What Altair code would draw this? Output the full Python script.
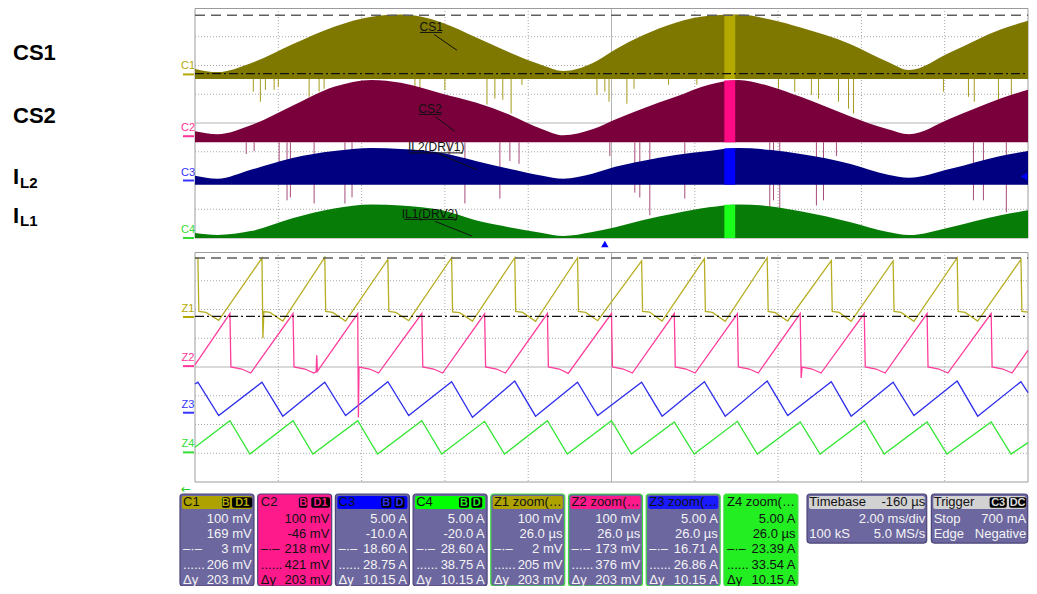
import altair as alt
import numpy as np
import pandas as pd

# ---------------- acquisition (upper grid): 2 ms/div, time in ms ----------------
t_ms = [-9.84, -9.3, -8.5, -7.5, -6.5, -5.6, -4.9, -3.9, -3.1, -2.3, -1.5, -1.0, -0.3,
        0.25, 0.9, 1.7, 2.5, 3.2, 4.0, 4.7, 5.9, 6.8, 7.3, 8.3, 9.5, 10.16]
cs1_top_mv = [19, 8, 39, 105, 166, 201, 208, 180, 129, 77, 32, 12, 39,
              87, 135, 180, 204, 208, 190, 163, 105, 43, 15, 77, 156, 187]
cs2_top_mv = [17, 7, 38, 106, 172, 196, 186, 148, 117, 76, 24, 3, 24,
              58, 96, 137, 179, 196, 172, 137, 69, 24, 7, 62, 131, 162]
il2_top_a = [0.82, 0.31, 1.86, 3.92, 5.12, 5.64, 5.46, 4.78, 3.40, 2.03, 0.82, 0.31, 1.17,
             2.37, 3.40, 4.43, 5.12, 5.64, 5.29, 4.60, 2.89, 1.00, 0.48, 2.03, 4.26, 5.12]
il1_top_a = [0.86, 0.52, 1.20, 3.44, 5.15, 5.84, 5.67, 4.81, 3.09, 1.89, 0.86, 0.34, 1.03,
             1.89, 3.09, 4.30, 5.33, 5.84, 5.50, 4.64, 2.75, 1.03, 0.52, 1.89, 3.95, 4.81]
cs1_floor_mv = -16
cs2_floor_mv = -21
il2_floor_a = -0.72
il1_floor_a = 0.0

cs1_spike_t = [-8.44, -8.27, -8.15, -7.94, -7.84, -7.10, -6.86, -6.74, -4.56, -4.44, -3.84,
               -2.83, -2.64, -2.45, -2.25, -1.99, -0.19, 0.0, 0.10, 0.53, 0.70, 1.53, 2.21,
               4.17, 4.56, 4.96, 5.13, 5.61, 5.85, 5.97, 8.13, 8.73, 8.87, 9.45, 9.76]
cs1_spike_mv = [-60, -95, -54, -54, -43, -78, -60, -50, -60, -50, -54,
                -105, -84, -88, -136, -36, -71, -60, -95, -102, -50, -36, -36,
                -50, -60, -71, -84, -95, -119, -136, -60, -78, -95, -88, -71]
cs2_spike_t = [-8.61, -8.42, -7.82, -7.63, -7.55, -6.98, -6.24, -6.07, -3.74, -3.36, -2.52,
               -2.28, -2.06, 0.12, 0.72, 0.84, 1.08, 1.92, 3.96, 4.05, 4.20, 5.08, 5.25,
               5.56, 8.85, 9.09, 9.64]
cs2_spike_mv = [-62, -52, -96, -223, -213, -234, -234, -213, -76, -234, -217,
                -86, -96, -69, -196, -213, -275, -217, -258, -223, -251, -241, -223,
                -69, -223, -223, -265]

# cursors (C1 / Z1)
c1_cursor_mv = [3, 206]
z1_cursor_mv = [2, 205]
zoom_window_ms = [2.87, 3.13]
trigger_level_a = 0.7

# ---------------- zoom (lower grid): 26 us/div, time in us ----------------
z1_us = [-130.0, -129.1, -128.8, -126.6, -122.6, -109.1, -108.8, -108.5, -106.6, -102.6,
         -89.5, -89.2, -87.0, -83.0, -69.8, -69.5, -67.3, -63.3, -49.9, -49.6, -47.4, -43.4,
         -30.2, -29.9, -27.7, -23.7, -10.6, -10.3, -8.1, -4.3, 9.4, 9.7, 11.9, 15.8,
         29.0, 29.3, 31.5, 35.5, 48.6, 48.9, 51.1, 55.0, 68.6, 68.9, 71.1, 74.8,
         87.9, 88.2, 90.4, 94.4, 107.9, 108.2, 110.4, 114.3, 127.8, 128.1, 130.0]
z1_mv = [203, 205, 19, 16, -12, 205, -74, 19, 16, -14,
         207, 19, 16, -14, 200, 19, 16, -13, 206, 18, 15, -14,
         206, 19, 16, -15, 206, 19, 16, -13, 195, 19, 17, -14,
         203, 19, 16, -15, 206, 19, 15, -14, 196, 19, 16, -15,
         195, 19, 16, -15, 206, 19, 16, -14, 200, 19, 17]
z2_us = [-130.0, -119.1, -118.8, -115.4, -112.6, -99.4, -99.1, -95.7, -92.9, -92.2, -92.0, -91.8,
         -79.2, -79.0, -78.8, -75.5, -72.7, -59.2, -58.9, -55.5, -52.7,
         -39.6, -39.3, -35.9, -33.1, -20.0, -19.7, -16.3, -13.5, 0.0, 0.3, 3.7, 6.5,
         19.6, 19.9, 23.3, 26.1, 39.3, 39.6, 43.0, 45.8, 58.9, 59.2, 59.5, 62.6, 65.4,
         78.9, 79.2, 82.6, 85.4, 98.5, 98.8, 102.2, 105.0, 118.5, 118.8, 122.2, 125.0, 130.0]
z2_mv = [4, 183, -3, -10, -24, 183, -3, -10, -24, -20, 38, -18,
         183, -179, -3, -10, -24, 183, -3, -10, -24,
         182, -3, -10, -24, 183, -3, -10, -25, 183, -3, -10, -24,
         183, -3, -10, -24, 182, -3, -10, -24, 183, -41, -3, -10, -24,
         183, -3, -10, -24, 183, -3, -10, -24, 183, -3, -10, -24, 55]
z3_us = [-130.0, -129.1, -122.6, -109.1, -102.6, -89.5, -83.0, -69.8, -63.3, -49.9, -43.4,
         -30.2, -23.7, -10.6, -4.3, 9.4, 15.8, 29.0, 35.5, 48.6, 55.0, 68.6, 74.8,
         87.9, 94.4, 107.9, 114.3, 127.8, 130.0]
z3_a = [5.0, 5.3, -0.5, 5.3, -0.6, 5.3, -0.5, 5.4, -0.5, 5.4, -0.8,
        5.5, -0.6, 5.3, -0.5, 5.3, -0.6, 5.4, -0.6, 5.5, -0.5, 5.4, -0.6,
        5.3, -0.5, 5.5, -0.6, 5.4, 3.5]
z4_us = [-130.0, -119.1, -112.9, -99.4, -93.2, -79.2, -73.0, -59.2, -53.0, -39.6, -33.4,
         -20.0, -13.8, 0.0, 6.2, 19.6, 25.8, 39.3, 45.5, 58.9, 65.1, 78.9, 85.1,
         98.5, 104.7, 118.5, 124.7, 130.0]
z4_a = [0.9, 5.5, -0.3, 5.5, -0.3, 5.5, -0.3, 5.5, -0.3, 5.4, -0.3,
        5.5, -0.3, 5.5, -0.3, 5.3, -0.3, 5.4, -0.3, 5.3, -0.3, 5.5, -0.3,
        5.3, -0.3, 5.3, -0.3, 1.7]

# ---------------- annotations in the upper grid (ms, divisions) ----------------
ann_text = ["CS1", "CS2", "IL2(DRV1)", "IL1(DRV2)"]
ann_t = [-4.17, -4.20, -4.05, -4.20]
ann_div = [7.35, 4.50, 3.16, 0.82]
ann_ul_t0 = [-4.44, -4.46, -4.70, -4.82]
ann_ul_t1 = [-3.91, -3.91, -3.41, -3.55]
ann_ul_div = [7.15, 4.30, 2.96, 0.65]
ann_ld_t0 = [-4.10, -4.08, -3.98, -4.08]
ann_ld_d0 = [7.08, 4.23, 2.92, 0.58]
ann_ld_t1 = [-3.55, -3.60, -3.07, -3.19]
ann_ld_d1 = [6.53, 3.71, 2.37, 0.07]

# ---------------- readout boxes ----------------
box_names = ["C1", "C2", "C3", "C4", "Z1 zoom(…", "Z2 zoom(…", "Z3 zoom(…", "Z4 zoom(…"]
row_scale = ["100 mV", "100 mV", "5.00 A", "5.00 A", "100 mV", "100 mV", "5.00 A", "5.00 A"]
row_offset = ["169 mV", "-46 mV", "-10.0 A", "-20.0 A", "26.0 µs", "26.0 µs", "26.0 µs", "26.0 µs"]
row_cur1 = ["3 mV", "218 mV", "18.60 A", "28.60 A", "2 mV", "173 mV", "16.71 A", "23.39 A"]
row_cur2 = ["206 mV", "421 mV", "28.75 A", "38.75 A", "205 mV", "376 mV", "26.86 A", "33.54 A"]
row_dy = ["203 mV", "203 mV", "10.15 A", "10.15 A", "203 mV", "203 mV", "10.15 A", "10.15 A"]
timebase_text = ["Timebase", "-160 µs", "2.00 ms/div", "100 kS", "5.0 MS/s"]
trigger_text = ["Trigger", "Stop", "700 mA", "Edge", "Negative"]

# ======================= layout / styles =======================
FONT = "Liberation Sans"
PX0, PX1 = 187, 1020
TOP_R = [230, 0]
BOT_R = [474, 244]
XT = alt.Scale(domain=[-9.84, 10.16], range=[PX0, PX1], zero=False, nice=False)
XZ = alt.Scale(domain=[-130, 130], range=[PX0, PX1], zero=False, nice=False)
DIVX = alt.Scale(domain=[0, 10], range=[PX0, PX1], zero=False, nice=False)


def divy(rng):
    return alt.Scale(domain=[0, 8], range=rng, zero=False, nice=False)


def ysc(ground_div, per_div, rng):
    return alt.Scale(domain=[-ground_div * per_div, (8 - ground_div) * per_div],
                     range=rng, zero=False, nice=False)


Y_C1 = ysc(5.69, 100, TOP_R)
Y_C2 = ysc(3.54, 100, TOP_R)
Y_C3 = ysc(2.0, 5, TOP_R)
Y_C4 = ysc(0.0, 5, TOP_R)
Y_Z1 = ysc(5.74, 100, BOT_R)
Y_Z2 = ysc(4.03, 100, BOT_R)
Y_Z3 = ysc(2.41, 5, BOT_R)
Y_Z4 = ysc(1.03, 5, BOT_R)

one = pd.DataFrame({"a": [0]})
layers = []


def grid(rng):
    y0, y1 = rng[1], rng[0]
    vx = pd.DataFrame({"d": [1, 2, 3, 4, 6, 7, 8, 9]})
    hy = pd.DataFrame({"d": [1, 2, 3, 5, 6, 7]})
    out = [
        alt.Chart(vx).mark_rule(color="#a9a9a9", strokeDash=[1, 2], strokeWidth=1).encode(
            x=alt.X("d:Q", scale=DIVX, axis=None), y=alt.value(y0), y2=alt.value(y1)),
        alt.Chart(hy).mark_rule(color="#a9a9a9", strokeDash=[1, 2], strokeWidth=1).encode(
            y=alt.Y("d:Q", scale=divy(rng), axis=None), x=alt.value(PX0), x2=alt.value(PX1)),
        alt.Chart(pd.DataFrame({"d": [5]})).mark_rule(color="#b4b4b4", strokeWidth=1).encode(
            x=alt.X("d:Q", scale=DIVX, axis=None), y=alt.value(y0), y2=alt.value(y1)),
        alt.Chart(pd.DataFrame({"d": [4]})).mark_rule(color="#b4b4b4", strokeWidth=1).encode(
            y=alt.Y("d:Q", scale=divy(rng), axis=None), x=alt.value(PX0), x2=alt.value(PX1)),
        alt.Chart(one).mark_rect(fillOpacity=0, stroke="#9c9c9c", strokeWidth=1).encode(
            x=alt.value(PX0), x2=alt.value(PX1), y=alt.value(y0 + 0.5), y2=alt.value(y1)),
    ]
    return out


layers += grid(TOP_R)
layers += grid(BOT_R)


def channel(top, floor, yscale, color, spike_t=None, spike_v=None, spike_color=None):
    df = pd.DataFrame({"t": t_ms, "v": top, "b": [floor] * len(t_ms)})
    out = [alt.Chart(df).mark_area(color=color, interpolate="monotone", clip=True).encode(
        x=alt.X("t:Q", scale=XT, axis=None), y=alt.Y("v:Q", scale=yscale, axis=None), y2="b:Q")]
    if spike_t is not None:
        sp = pd.DataFrame({"t": spike_t, "v": spike_v, "b": [floor] * len(spike_t)})
        out.append(alt.Chart(sp).mark_rule(color=spike_color, strokeWidth=1, clip=True).encode(
            x=alt.X("t:Q", scale=XT, axis=None), y=alt.Y("v:Q", scale=yscale, axis=None), y2="b:Q"))
    return out


def zoom_bar(top, floor, yscale, color):
    tops = np.interp(zoom_window_ms, t_ms, top)
    df = pd.DataFrame({"t": zoom_window_ms, "v": [tops.max()] * 2, "b": [floor] * 2})
    return alt.Chart(df).mark_area(color=color).encode(
        x=alt.X("t:Q", scale=XT, axis=None), y=alt.Y("v:Q", scale=yscale, axis=None), y2="b:Q")


layers += channel(cs1_top_mv, cs1_floor_mv, Y_C1, "#7f7800", cs1_spike_t, cs1_spike_mv, "#a69b1c")
layers += channel(cs2_top_mv, cs2_floor_mv, Y_C2, "#7a003c", cs2_spike_t, cs2_spike_mv, "#a64c7a")
layers += channel(il2_top_a, il2_floor_a, Y_C3, "#000080")
layers += channel(il1_top_a, il1_floor_a, Y_C4, "#077d07")
layers += [zoom_bar(cs1_top_mv, cs1_floor_mv, Y_C1, "#b3a900"),
           zoom_bar(cs2_top_mv, cs2_floor_mv, Y_C2, "#ff0a84"),
           zoom_bar(il2_top_a, il2_floor_a, Y_C3, "#0000ff"),
           zoom_bar(il1_top_a, il1_floor_a, Y_C4, "#19ff19")]


# zoom traces
def trace(us, val, yscale, color):
    df = pd.DataFrame({"u": us, "v": val, "i": range(len(us))})
    return alt.Chart(df).mark_line(color=color, strokeWidth=1.3, clip=True).encode(
        x=alt.X("u:Q", scale=XZ, axis=None), y=alt.Y("v:Q", scale=yscale, axis=None),
        order=alt.Order("i:Q"))


layers += [trace(z4_us, z4_a, Y_Z4, "#33e633"),
           trace(z3_us, z3_a, Y_Z3, "#2f2fee"),
           trace(z2_us, z2_mv, Y_Z2, "#ff3d9c"),
           trace(z1_us, z1_mv, Y_Z1, "#b7ad22")]


# cursors
def cursors(vals, yscale):
    dash = pd.DataFrame({"v": [vals[1]]})
    dd = pd.DataFrame({"v": [vals[0]]})
    return [
        alt.Chart(dash).mark_rule(color="#5e5e5e", strokeDash=[10, 6], strokeWidth=1.6).encode(
            y=alt.Y("v:Q", scale=yscale, axis=None), x=alt.value(PX0), x2=alt.value(PX1)),
        alt.Chart(dd).mark_rule(color="#111111", strokeDash=[9, 3, 2, 3], strokeWidth=1.3).encode(
            y=alt.Y("v:Q", scale=yscale, axis=None), x=alt.value(PX0), x2=alt.value(PX1)),
    ]


layers += cursors(c1_cursor_mv, Y_C1)
layers += cursors(z1_cursor_mv, Y_Z1)


# ground markers / channel tags
def tag(label, yscale, color):
    df = pd.DataFrame({"v": [0]})
    return [
        alt.Chart(df).mark_rule(color=color, strokeWidth=2).encode(
            y=alt.Y("v:Q", scale=yscale, axis=None), x=alt.value(175), x2=alt.value(186)),
        alt.Chart(df).mark_text(text=label, color=color, font=FONT, fontSize=11, dy=-8).encode(
            y=alt.Y("v:Q", scale=yscale, axis=None), x=alt.value(180)),
    ]


for lab, ys, col in [("C1", Y_C1, "#b3a800"), ("C2", Y_C2, "#ff3399"), ("C3", Y_C3, "#3535ff"),
                     ("C4", Y_C4, "#33dd33"), ("Z1", Y_Z1, "#b3a800"), ("Z2", Y_Z2, "#ff3399"),
                     ("Z3", Y_Z3, "#3535ff"), ("Z4", Y_Z4, "#33dd33")]:
    layers += tag(lab, ys, col)

# trigger markers
layers.append(alt.Chart(pd.DataFrame({"t": [0.0]})).mark_point(
    shape="triangle-up", filled=True, color="#0000ff", size=55, opacity=1).encode(
    x=alt.X("t:Q", scale=XT, axis=None), y=alt.value(236)))
layers.append(alt.Chart(pd.DataFrame({"v": [trigger_level_a]})).mark_point(
    shape="triangle-left", filled=True, color="#0000ff", size=55, opacity=1).encode(
    y=alt.Y("v:Q", scale=Y_C3, axis=None), x=alt.value(1016)))

# annotations
ann = pd.DataFrame({"txt": ann_text, "t": ann_t, "d": ann_div,
                    "u0": ann_ul_t0, "u1": ann_ul_t1, "ud": ann_ul_div,
                    "l0": ann_ld_t0, "ld0": ann_ld_d0, "l1": ann_ld_t1, "ld1": ann_ld_d1})
DY_TOP = divy(TOP_R)
layers.append(alt.Chart(ann).mark_text(font=FONT, fontSize=12, color="#111111").encode(
    x=alt.X("t:Q", scale=XT, axis=None), y=alt.Y("d:Q", scale=DY_TOP, axis=None), text="txt:N"))
layers.append(alt.Chart(ann).mark_rule(color="#111111", strokeWidth=1).encode(
    x=alt.X("u0:Q", scale=XT, axis=None), x2="u1:Q", y=alt.Y("ud:Q", scale=DY_TOP, axis=None)))
layers.append(alt.Chart(ann).mark_rule(color="#111111", strokeWidth=1).encode(
    x=alt.X("l0:Q", scale=XT, axis=None), x2="l1:Q",
    y=alt.Y("ld0:Q", scale=DY_TOP, axis=None), y2="ld1:Q"))

# left side labels


def side(text, x, y, size):
    return alt.Chart(one).mark_text(text=text, font=FONT, fontSize=size, fontWeight="bold",
                                    color="#000000", align="left", baseline="middle").encode(
        x=alt.value(x), y=alt.value(y))


layers += [side("CS1", 5, 45, 22), side("CS2", 5, 108, 22),
           side("I", 5, 169, 22), side("L2", 12, 175, 15),
           side("I", 5, 208, 22), side("L1", 12, 213, 15)]

layers.append(alt.Chart(one).mark_text(text="←", font="DejaVu Sans", fontSize=12, color="#22cc22").encode(
    x=alt.value(178), y=alt.value(481)))

# ---------------- readout boxes ----------------
SLOT = alt.Scale(domain=[0, 10], range=[172, 949], zero=False, nice=False)
ROW = alt.Scale(domain=[0, 6], range=[486, 578], zero=False, nice=False)
W = 0.952
hdr_cols = ["#ada200", "#ff1a8c", "#0000ff", "#00ff00", "#ada200", "#ff1a8c", "#1a1aff", "#22ee22"]
body_cols = ["#6c679f", "#ff1a8c", "#6c679f", "#6c679f", "#6c679f", "#6c679f", "#6c679f", "#22ee22"]
edge_cols = ["#4a4578"] * 4 + ["#3ddc3d"] * 4
text_cols = ["#f4f4f4", "#111111", "#f4f4f4", "#f4f4f4", "#f4f4f4", "#f4f4f4", "#f4f4f4", "#111111"]

rows_b, rows_h, lt, rt = [], [], [], []
for i in range(8):
    s0, s1 = i, i + W
    rows_b.append(dict(s0=s0, s1=s1, r0=0, r1=6, fill=body_cols[i], stroke=edge_cols[i]))
    rows_h.append(dict(s0=s0 + 0.025, s1=s1 - 0.025, r0=0.13, r1=0.98, fill=hdr_cols[i]))
    lt.append(dict(s=s0 + 0.04, r=0.55, txt=box_names[i], col="#111111"))
    for k, lab in zip([3, 4, 5], ["–·–", "......", "Δy"]):
        lt.append(dict(s=s0 + 0.04, r=k + 0.6, txt=lab, col=text_cols[i]))
    for k, vals in enumerate([row_scale, row_offset, row_cur1, row_cur2, row_dy]):
        rt.append(dict(s=s1 - 0.03, r=k + 1.6, txt=vals[i], col=text_cols[i]))

# timebase & trigger
for s0, s1, tx in [(8.07, 9.61, "tb"), (9.67, 10.91, "tr")]:
    rows_b.append(dict(s0=s0, s1=s1, r0=0, r1=3.2, fill="#6c679f", stroke="#4a4578"))
    rows_h.append(dict(s0=s0 + 0.025, s1=s1 - 0.025, r0=0.13, r1=0.98, fill="#d2d2d2"))
    if tx == "tb":
        lt.append(dict(s=s0 + 0.03, r=0.55, txt=timebase_text[0], col="#111111"))
        rt.append(dict(s=s1 - 0.02, r=0.55, txt=timebase_text[1], col="#111111"))
        rt.append(dict(s=s1 - 0.02, r=1.6, txt=timebase_text[2], col="#f4f4f4"))
        lt.append(dict(s=s0 + 0.03, r=2.6, txt=timebase_text[3], col="#f4f4f4"))
        rt.append(dict(s=s1 - 0.02, r=2.6, txt=timebase_text[4], col="#f4f4f4"))
    else:
        lt.append(dict(s=s0 + 0.03, r=0.55, txt=trigger_text[0], col="#111111"))
        lt.append(dict(s=s0 + 0.03, r=1.6, txt=trigger_text[1], col="#f4f4f4"))
        rt.append(dict(s=s1 - 0.02, r=1.6, txt=trigger_text[2], col="#f4f4f4"))
        lt.append(dict(s=s0 + 0.03, r=2.6, txt=trigger_text[3], col="#f4f4f4"))
        rt.append(dict(s=s1 - 0.02, r=2.6, txt=trigger_text[4], col="#f4f4f4"))

badges = [(0.54, 0.64, "B", "#b3a800"), (0.67, 0.93, "D1", "#b3a800"),
          (1.53, 1.64, "B", "#ff1a8c"), (1.69, 1.93, "D1", "#ff1a8c"),
          (2.59, 2.72, "B", "#3030ff"), (2.76, 2.89, "D", "#3030ff"),
          (3.59, 3.72, "B", "#22ee22"), (3.75, 3.89, "D", "#22ee22"),
          (10.42, 10.64, "C3", "#dddddd"), (10.67, 10.89, "DC", "#dddddd")]
bd = pd.DataFrame([dict(s0=a, s1=b, r0=0.22, r1=0.9, sm=(a + b) / 2, r=0.57, txt=t, col=c)
                   for a, b, t, c in badges])

B = pd.DataFrame(rows_b)
H = pd.DataFrame(rows_h)
LT = pd.DataFrame(lt)
RT = pd.DataFrame(rt)

layers.append(alt.Chart(B).mark_rect(cornerRadius=3, strokeWidth=1.2).encode(
    x=alt.X("s0:Q", scale=SLOT, axis=None), x2="s1:Q",
    y=alt.Y("r0:Q", scale=ROW, axis=None), y2="r1:Q",
    fill=alt.Fill("fill:N", scale=None), stroke=alt.Stroke("stroke:N", scale=None)))
layers.append(alt.Chart(H).mark_rect(cornerRadius=2).encode(
    x=alt.X("s0:Q", scale=SLOT, axis=None), x2="s1:Q",
    y=alt.Y("r0:Q", scale=ROW, axis=None), y2="r1:Q",
    fill=alt.Fill("fill:N", scale=None)))
layers.append(alt.Chart(bd).mark_rect(cornerRadius=2, color="#000000").encode(
    x=alt.X("s0:Q", scale=SLOT, axis=None), x2="s1:Q",
    y=alt.Y("r0:Q", scale=ROW, axis=None), y2="r1:Q"))
layers.append(alt.Chart(bd).mark_text(font=FONT, fontSize=11, fontWeight="bold").encode(
    x=alt.X("sm:Q", scale=SLOT, axis=None), y=alt.Y("r:Q", scale=ROW, axis=None),
    text="txt:N", color=alt.Color("col:N", scale=None)))
layers.append(alt.Chart(LT).mark_text(font=FONT, fontSize=13, align="left", baseline="middle").encode(
    x=alt.X("s:Q", scale=SLOT, axis=None), y=alt.Y("r:Q", scale=ROW, axis=None),
    text="txt:N", color=alt.Color("col:N", scale=None)))
layers.append(alt.Chart(RT).mark_text(font=FONT, fontSize=13, align="right", baseline="middle").encode(
    x=alt.X("s:Q", scale=SLOT, axis=None), y=alt.Y("r:Q", scale=ROW, axis=None),
    text="txt:N", color=alt.Color("col:N", scale=None)))

chart = alt.layer(*layers).resolve_scale(x="independent", y="independent").properties(
    width=1021, height=578, padding=0,
    autosize=alt.AutoSizeParams(type="none"), background="white",
).configure_view(stroke=None)

chart.save("out.html", embed_options={"renderer": "svg", "actions": False})
